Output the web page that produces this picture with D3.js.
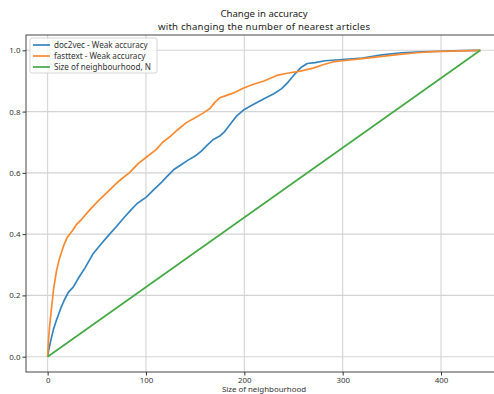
<!DOCTYPE html>
<html>
<head>
<meta charset="utf-8">
<script src="https://cdn.jsdelivr.net/npm/d3@7"></script>
<style>
  body { margin: 0; background: #fff; }
  svg { display: block; font-family: "Noto Sans", sans-serif; }
</style>
</head>
<body>
<svg id="chart" width="494" height="394"></svg>
<script>
// data
const doc2vec = [
  [0, 0], [1, 0.02], [3, 0.05], [6, 0.09], [9, 0.12], [13, 0.155], [17, 0.185], [21, 0.21],
  [26, 0.227], [32, 0.26], [38, 0.29], [46, 0.335], [55, 0.37], [63, 0.4], [70, 0.425],
  [78, 0.455], [85, 0.48], [91, 0.5], [100, 0.52], [108, 0.545], [116, 0.57], [122, 0.59],
  [128, 0.61], [135, 0.625], [142, 0.64], [150, 0.655], [156, 0.67], [162, 0.69], [168, 0.708],
  [175, 0.72], [180, 0.735], [186, 0.76], [192, 0.785], [200, 0.807], [210, 0.825], [220, 0.842],
  [230, 0.858], [238, 0.875], [245, 0.898], [252, 0.925], [258, 0.945], [264, 0.957], [272, 0.96],
  [282, 0.966], [300, 0.97], [320, 0.975], [340, 0.985], [360, 0.992], [380, 0.995], [400, 0.997],
  [420, 0.999], [440, 1.0]
];
const fasttext = [
  [0, 0], [1, 0.06], [2, 0.1], [4, 0.16], [6, 0.22], [9, 0.28], [12, 0.32], [16, 0.36],
  [20, 0.39], [25, 0.41], [29, 0.43], [35, 0.45], [43, 0.48], [52, 0.51], [60, 0.535],
  [68, 0.56], [75, 0.58], [83, 0.6], [92, 0.63], [100, 0.65], [110, 0.675], [117, 0.7],
  [125, 0.72], [132, 0.74], [141, 0.764], [150, 0.78], [158, 0.795], [165, 0.81], [170, 0.83],
  [175, 0.845], [182, 0.853], [190, 0.862], [200, 0.878], [210, 0.89], [220, 0.9], [233, 0.918],
  [245, 0.926], [257, 0.932], [270, 0.942], [280, 0.953], [290, 0.962], [300, 0.966], [320, 0.973],
  [340, 0.98], [358, 0.987], [375, 0.992], [392, 0.996], [420, 0.998], [440, 1.0]
];
const neighbourhood = [[0, 0], [440, 1.0]];

const seriesNames = ["doc2vec - Weak accuracy", "fasttext - Weak accuracy", "Size of neighbourhood, N"];
const seriesColors = ["#3584c0", "#fb8a30", "#45aa45"];
const xTicks = [0, 100, 200, 300, 400];
const yTicks = [0.0, 0.2, 0.4, 0.6, 0.8, 1.0];

const svg = d3.select("#chart");
const margin = { left: 26, top: 35, right: 502, bottom: 372 };

const x = d3.scaleLinear().domain([-22, 462]).range([margin.left, margin.right]);
const y = d3.scaleLinear().domain([-0.05, 1.05]).range([margin.bottom, margin.top]);

const plot = svg.append("g");

// grid
plot.append("g")
  .selectAll("line")
  .data(xTicks)
  .join("line")
  .attr("x1", d => x(d)).attr("x2", d => x(d))
  .attr("y1", margin.top).attr("y2", margin.bottom)
  .attr("stroke", "#d4d4d4").attr("stroke-width", 1.1);
plot.append("g")
  .selectAll("line")
  .data(yTicks)
  .join("line")
  .attr("x1", margin.left).attr("x2", margin.right)
  .attr("y1", d => y(d)).attr("y2", d => y(d))
  .attr("stroke", "#d4d4d4").attr("stroke-width", 1.1);

// lines
const line = d3.line().x(d => x(d[0])).y(d => y(d[1]));
[doc2vec, fasttext, neighbourhood].forEach((s, i) => {
  plot.append("path")
    .datum(s)
    .attr("d", line)
    .attr("fill", "none")
    .attr("stroke", seriesColors[i])
    .attr("stroke-width", 1.7)
    .attr("stroke-linejoin", "round");
});

// axes
const xAxis = svg.append("g")
  .attr("transform", `translate(0,${margin.bottom})`)
  .call(d3.axisBottom(x).tickValues(xTicks).tickSize(3.5).tickPadding(2).tickFormat(d3.format("d")));
const yAxis = svg.append("g")
  .attr("transform", `translate(${margin.left},0)`)
  .call(d3.axisLeft(y).tickValues(yTicks).tickSize(3.5).tickPadding(2).tickFormat(d3.format(".1f")));
[xAxis, yAxis].forEach(a => {
  a.select(".domain").remove();
  a.selectAll("line").attr("stroke", "#333");
  a.selectAll("text").attr("fill", "#333").style("font-size", "7.9px").style("font-family", "Noto Sans");
});

// spines
svg.append("rect")
  .attr("x", margin.left).attr("y", margin.top)
  .attr("width", margin.right - margin.left).attr("height", margin.bottom - margin.top)
  .attr("fill", "none").attr("stroke", "#333").attr("stroke-width", 0.9);

// titles
const cx = (margin.left + margin.right) / 2;
svg.append("text").attr("x", cx).attr("y", 17).attr("text-anchor", "middle")
  .style("font-size", "9.6px").attr("fill", "#222").text("Change in accuracy");
svg.append("text").attr("x", cx).attr("y", 30).attr("text-anchor", "middle")
  .style("font-size", "9.6px").attr("fill", "#222")
  .attr("textLength", 212).attr("lengthAdjust", "spacing")
  .text("with changing the number of nearest articles");
svg.append("text").attr("x", cx).attr("y", 392).attr("text-anchor", "middle")
  .style("font-size", "7.9px").attr("fill", "#333").text("Size of neighbourhood");

// legend
const legend = svg.append("g").attr("transform", "translate(30,38)");
legend.append("rect")
  .attr("width", 127).attr("height", 35).attr("rx", 2)
  .attr("fill", "#fff").attr("fill-opacity", 0.85)
  .attr("stroke", "#ccc").attr("stroke-width", 0.8);
const rows = legend.selectAll("g.row")
  .data(seriesNames)
  .join("g")
  .attr("class", "row")
  .attr("transform", (d, i) => `translate(0,${7 + i * 11})`);
rows.append("line")
  .attr("x1", 3).attr("x2", 20)
  .attr("stroke", (d, i) => seriesColors[i]).attr("stroke-width", 1.7);
rows.append("text")
  .attr("x", 24).attr("dy", "0.35em")
  .style("font-size", "8.1px").attr("fill", "#333")
  .text(d => d);
</script>
</body>
</html>
